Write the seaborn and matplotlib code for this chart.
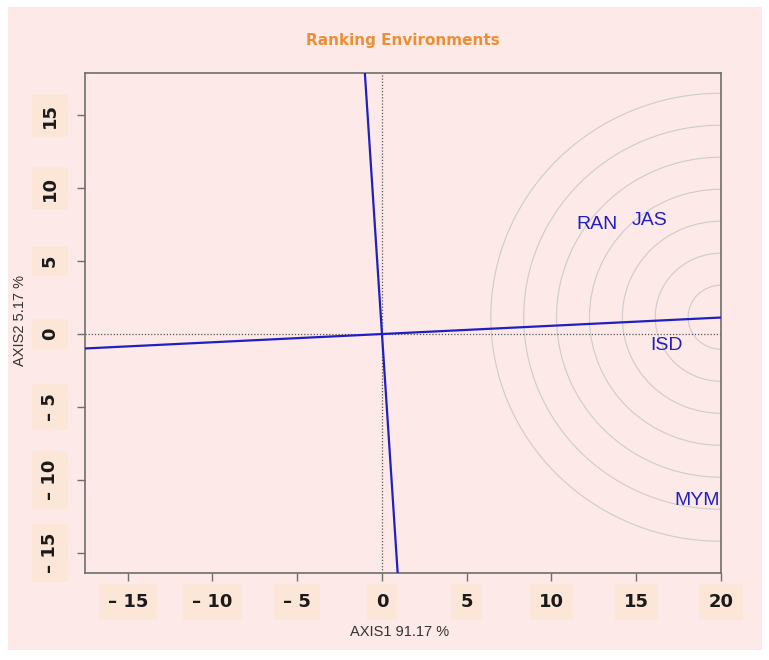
import matplotlib
matplotlib.use("Agg")
import matplotlib.pyplot as plt
from matplotlib.patches import Ellipse, Rectangle
import numpy as np
import pandas as pd
import seaborn as sns

# Environment scores
env_names = ["RAN", "JAS", "ISD", "MYM"]
env_x = [12.7, 15.8, 16.8, 18.6]
env_y = [7.5, 7.8, -0.8, -11.4]

# average environment axis (through origin) and ideal environment
aea_slope = 0.0565
ideal_x = 20.0
ideal_y = 1.15
ring_radii = [1.94, 3.88, 5.82, 7.76, 9.70, 11.64, 13.58]

x_ticks = [-15, -10, -5, 0, 5, 10, 15, 20]
y_ticks = [-15, -10, -5, 0, 5, 10, 15]

env_df = pd.DataFrame({"env": env_names, "x": env_x, "y": env_y})

sns.set_style("ticks")
bg = "#fde9e7"
box = "#fce6d8"
blue = "#2020c0"

fig = plt.figure(figsize=(7.69, 6.6), dpi=100, facecolor="white")
fig.patches.append(Rectangle((8 / 769, 10 / 660), 754 / 769, 643 / 660,
                             transform=fig.transFigure, facecolor=bg,
                             edgecolor="none", zorder=-10))
ax = fig.add_axes([85 / 769, 87 / 660, 636 / 769, 500 / 660])
ax.set_facecolor(bg)

ax.set_xlim(-17.52, 20.0)
ax.set_ylim(-16.37, 17.88)

# concentric rings around the ideal environment
for r in ring_radii:
    ax.add_patch(Ellipse((ideal_x, ideal_y), 2 * r, 2 * r * 1.13,
                         fill=False, edgecolor="#cccccc", lw=0.8, zorder=1))

ax.axhline(0, color="#555555", lw=0.9, ls=(0, (1, 1.5)), zorder=2)
ax.axvline(0, color="#555555", lw=0.9, ls=(0, (1, 1.5)), zorder=2)

ax.axline((0, 0), slope=aea_slope, color=blue, lw=1.6, zorder=3)
ax.axline((0, 0), slope=-1 / aea_slope, color=blue, lw=1.6, zorder=3)

for _, row in env_df.iterrows():
    ax.text(row["x"], row["y"], row["env"], color=blue, fontsize=14,
            ha="center", va="center", family="Liberation Sans",
            clip_on=True, zorder=4)

for s in ax.spines.values():
    s.set_color("#6e6e6e")
    s.set_linewidth(1.2)

ax.set_xticks(x_ticks)
ax.set_yticks(y_ticks)
ax.set_xticklabels([])
ax.set_yticklabels([])
ax.tick_params(axis="both", length=6, width=1, color="#6e6e6e", direction="out")

lab = lambda v: ("– " + str(abs(v))) if v < 0 else str(v)
bb = dict(boxstyle="square,pad=0.5", facecolor=box, edgecolor="none")
for v in x_ticks:
    ax.text(v, -0.058, lab(v), transform=ax.get_xaxis_transform(), ha="center",
            va="center", fontsize=13, fontweight="bold", color="#1a1a1a", bbox=bb)
for v in y_ticks:
    ax.text(-0.055, v, lab(v), transform=ax.get_yaxis_transform(), ha="center",
            va="center", fontsize=13, fontweight="bold", color="#1a1a1a",
            rotation=90, bbox=bb)

fig.text(403 / 769, 1 - 41 / 660, "Ranking Environments", ha="center", va="center",
         fontsize=11, fontweight="bold", color="#ea8f35")
fig.text(400 / 769, 1 - 632 / 660, "AXIS1 91.17 %", ha="center", va="center",
         fontsize=10.5, color="#333333", family="Liberation Sans")
fig.text(20 / 769, 1 - 320 / 660, "AXIS2 5.17 %", ha="center", va="center",
         fontsize=10.5, color="#333333", rotation=90, family="Liberation Sans")

fig.savefig("out.png", dpi=100, facecolor="white")
